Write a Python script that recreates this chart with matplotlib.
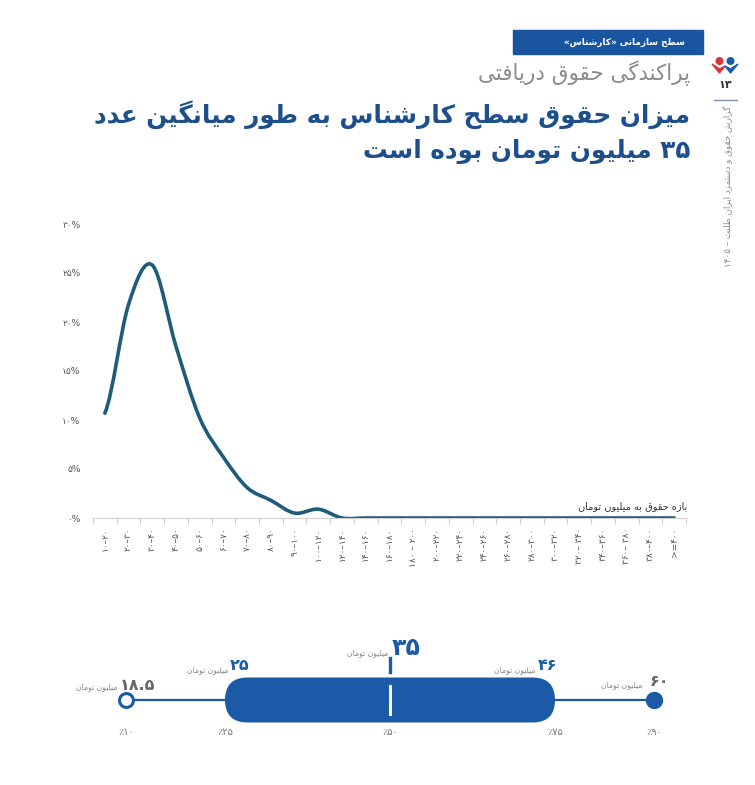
import re
import numpy as np
import matplotlib
matplotlib.use('Agg')
import matplotlib.pyplot as plt
from matplotlib.path import Path
from matplotlib.patches import PathPatch, FancyBboxPatch, Rectangle, Circle, Polygon

# ---- data ----
bins = ['۱۰–۲۰', '۲۰–۳۰', '۳۰–۴۰', '۴۰–۵۰', '۵۰–۶۰', '۶۰–۷۰', '۷۰–۸۰', '۸۰–۹۰',
        '۹۰–۱۰۰', '۱۰۰–۱۲۰', '۱۲۰–۱۴۰', '۱۴۰–۱۶۰', '۱۶۰–۱۸۰', '۱۸۰ – ۲۰۰',
        '۲۰۰–۲۲۰', '۲۲۰–۲۴۰', '۲۴۰–۲۶۰', '۲۶۰–۲۸۰', '۲۸۰–۳۰۰', '۳۰۰–۳۲۰',
        '۳۲۰– ۳۴۰', '۳۴۰–۳۶۰', '۳۶۰– ۳۸۰', '۳۸۰–۴۰۰', '>=۴۰۰']
share = [10.7, 21.8, 25.8, 17.5, 10.2, 6.2, 3.1, 1.8, 0.5, 0.9, 0.0, 0.0, 0.0,
         0.0, 0.0, 0.0, 0.0, 0.0, 0.0, 0.0, 0.0, 0.0, 0.0, 0.0, 0.0]
yticks = [0, 5, 10, 15, 20, 25, 30]

pct_levels = [10, 25, 50, 75, 90]
pct_values = ['۱۸.۵', '۲۵', '۳۵', '۴۶', '۶۰']
pct_labels = ['٪۱۰', '٪۲۵', '٪۵۰', '٪۷۵', '٪۹۰']

# ---- minimal persian shaping (matplotlib has no text shaping) ----
F = {
    'ا': ('\uFE8D', '\uFE8E', None, None), 'آ': ('\uFE81', '\uFE82', None, None),
    'ب': ('\uFE8F', '\uFE90', '\uFE91', '\uFE92'), 'پ': ('\uFB56', '\uFB57', '\uFB58', '\uFB59'),
    'ت': ('\uFE95', '\uFE96', '\uFE97', '\uFE98'), 'ث': ('\uFE99', '\uFE9A', '\uFE9B', '\uFE9C'),
    'ج': ('\uFE9D', '\uFE9E', '\uFE9F', '\uFEA0'), 'چ': ('\uFB7A', '\uFB7B', '\uFB7C', '\uFB7D'),
    'ح': ('\uFEA1', '\uFEA2', '\uFEA3', '\uFEA4'), 'خ': ('\uFEA5', '\uFEA6', '\uFEA7', '\uFEA8'),
    'د': ('\uFEA9', '\uFEAA', None, None), 'ذ': ('\uFEAB', '\uFEAC', None, None),
    'ر': ('\uFEAD', '\uFEAE', None, None), 'ز': ('\uFEAF', '\uFEB0', None, None),
    'ژ': ('\uFB8A', '\uFB8B', None, None),
    'س': ('\uFEB1', '\uFEB2', '\uFEB3', '\uFEB4'), 'ش': ('\uFEB5', '\uFEB6', '\uFEB7', '\uFEB8'),
    'ص': ('\uFEB9', '\uFEBA', '\uFEBB', '\uFEBC'), 'ض': ('\uFEBD', '\uFEBE', '\uFEBF', '\uFEC0'),
    'ط': ('\uFEC1', '\uFEC2', '\uFEC3', '\uFEC4'), 'ظ': ('\uFEC5', '\uFEC6', '\uFEC7', '\uFEC8'),
    'ع': ('\uFEC9', '\uFECA', '\uFECB', '\uFECC'), 'غ': ('\uFECD', '\uFECE', '\uFECF', '\uFED0'),
    'ف': ('\uFED1', '\uFED2', '\uFED3', '\uFED4'), 'ق': ('\uFED5', '\uFED6', '\uFED7', '\uFED8'),
    'ک': ('\uFB8E', '\uFB8F', '\uFB90', '\uFB91'), 'گ': ('\uFB92', '\uFB93', '\uFB94', '\uFB95'),
    'ل': ('\uFEDD', '\uFEDE', '\uFEDF', '\uFEE0'), 'م': ('\uFEE1', '\uFEE2', '\uFEE3', '\uFEE4'),
    'ن': ('\uFEE5', '\uFEE6', '\uFEE7', '\uFEE8'), 'ه': ('\uFEE9', '\uFEEA', '\uFEEB', '\uFEEC'),
    'و': ('\uFEED', '\uFEEE', None, None), 'ی': ('\uFBFC', '\uFBFD', '\uFBFE', '\uFBFF'),
}


def fa(text):
    out = []
    n = len(text)
    for i, c in enumerate(text):
        if c not in F:
            out.append(c)
            continue
        prev = text[i - 1] if i > 0 else ''
        nxt = text[i + 1] if i + 1 < n else ''
        jp = prev in F and F[prev][2] is not None
        jn = nxt in F and F[c][2] is not None
        iso, fin, ini, med = F[c]
        out.append(med if jp and jn else fin if jp else ini if jn else iso)
    s = ''.join(out)[::-1]
    s = s.translate(str.maketrans('«»()', '»«)('))
    return re.sub(r'[۰-۹0-9.]+', lambda m: m.group(0)[::-1], s)


plt.rcParams['font.family'] = ['DejaVu Sans']

W, H = 755, 785
fig = plt.figure(figsize=(W / 100, H / 100), dpi=100)

# overlay in pixel units for header / decoration
bg = fig.add_axes([0, 0, 1, 1])
bg.set_xlim(0, W)
bg.set_ylim(H, 0)
bg.axis('off')

blue = '#1a56a0'
navy = '#1c4f8c'
gray = '#8c8c8c'

bg.add_patch(Rectangle((513, 30), 190, 24, color=blue))
bg.text(624, 42, fa('سطح سازمانی «کارشناس»'), color='white', fontsize=6.4,
        fontweight='bold', ha='center', va='center')
bg.text(690, 73, fa('پراکندگی حقوق دریافتی'), color=gray, fontsize=15.5,
        ha='right', va='center')
bg.text(690, 115, fa('میزان حقوق سطح کارشناس به طور میانگین عدد'), color=navy,
        fontsize=17.7, fontweight='bold', ha='right', va='center')
bg.text(690, 151, fa('۳۵ میلیون تومان بوده است'), color=navy,
        fontsize=17.7, fontweight='bold', ha='right', va='center')

# side logo + page number
bg.add_patch(Circle((719.5, 61), 3.3, color='#d8343c'))
bg.add_patch(Circle((730.5, 61), 3.3, color='#1a5aa8'))
bg.add_patch(Polygon([(712, 64), (719.5, 73), (725, 66), (719.5, 69)], color='#d8343c'))
bg.add_patch(Polygon([(738, 64), (730.5, 73), (725, 66), (730.5, 69)], color='#1a5aa8'))
bg.text(725, 85, '۱۳', fontsize=8, fontweight='bold', color='#333333', ha='center', va='center')
bg.plot([714, 737], [100, 100], color='#7f8fa8', lw=1)
bg.text(727, 106, fa('گزارش حقوق و دستمزد ایران طلنت – ۱۴۰۵'), rotation=90,
        fontsize=6.3, color='#8a8a8a', ha='center', va='top')

# ---- distribution curve ----
ax = fig.add_axes([93 / W, 1 - 518 / H, 593 / W, 294 / H])
x = np.arange(len(share))
y = np.array(share)
# smooth line through the points (Catmull-Rom as cubic bezier)
verts = [(x[0], y[0])]
codes = [Path.MOVETO]
for i in range(len(x) - 1):
    p0 = y[max(i - 1, 0)]
    p3 = y[min(i + 2, len(y) - 1)]
    c1 = y[i] + (y[i + 1] - p0) / 6
    c2 = y[i + 1] - (p3 - y[i]) / 6
    verts += [(x[i] + 1 / 3, c1), (x[i] + 2 / 3, c2), (x[i + 1], y[i + 1])]
    codes += [Path.CURVE4] * 3
ax.add_patch(PathPatch(Path(verts, codes), fill=False, edgecolor='#1f5b7a',
                       lw=2.6, capstyle='round', joinstyle='round'))
ax.set_xlim(-0.5, len(share) - 0.5)
ax.set_ylim(0, 30)
ax.set_yticks(yticks)
ax.set_yticklabels([fa(str(v).translate(str.maketrans('0123456789', '۰۱۲۳۴۵۶۷۸۹'))) + '%'
                    for v in yticks])
ax.set_xticks(x)
ax.set_xticklabels(bins, rotation=90)
ax.set_xticks(np.arange(-0.5, len(share)), minor=True)
ax.tick_params(axis='x', which='major', length=0, pad=7, labelsize=6.5, labelcolor='#555555')
ax.tick_params(axis='x', which='minor', length=4, color='#d0d0d0', width=0.8)
ax.tick_params(axis='y', length=0, pad=9, labelsize=6.5, labelcolor='#555555')
for s in ['top', 'right', 'left']:
    ax.spines[s].set_visible(False)
ax.spines['bottom'].set_color('#d0d0d0')
ax.text(len(share) - 0.45, 1.2, fa('بازه حقوق به میلیون تومان'), fontsize=7,
        color='#333333', ha='right', va='center')

# ---- percentile strip ----
u = 6.6  # pixels per unit
bx = fig.add_axes([60 / W, 1 - 760 / H, 660 / W, 140 / H])
bx.set_xlim(0, 100)
bx.set_ylim(-60 / u, 80 / u)
bx.axis('off')
bc = '#1a5aa6'
bx.plot(pct_levels[:2], [0, 0], color=bc, lw=1.6, zorder=1)
bx.plot(pct_levels[3:], [0, 0], color=bc, lw=1.6, zorder=1)
hh = 22.5 / u
bx.add_patch(FancyBboxPatch((pct_levels[1], -hh), pct_levels[3] - pct_levels[1], 2 * hh,
                            boxstyle='round,pad=0,rounding_size=%f' % hh,
                            facecolor=bc, edgecolor='none', zorder=2))
bx.plot([pct_levels[2]] * 2, [-14 / u, 14 / u], color='white', lw=2.2, zorder=3)
bx.plot([pct_levels[2]] * 2, [28 / u, 42 / u], color=bc, lw=2.4, zorder=3)
bx.plot(pct_levels[0], 0, 'o', ms=10, mfc='white', mec=bc, mew=2.2, zorder=4)
bx.plot(pct_levels[4], 0, 'o', ms=11.5, mfc=bc, mec=bc, zorder=4)

unit = fa('میلیون تومان')
# value label offsets in pixels: (value dx, value dy, value align, unit dx, unit dy, colour, size)
lab = [(-6, 15, 'left', -9, 13, '#666666', 11.5),
       (5, 34, 'left', 3, 30, bc, 11.5),
       (2, 52, 'left', -2, 47, bc, 17),
       (2, 35, 'right', -20, 30, bc, 11.5),
       (-4, 19, 'left', -12, 15, '#666666', 11.5)]
for p, v, (dx, dy, ha, ux, uy, col, fs) in zip(pct_levels, pct_values, lab):
    bx.annotate(v, (p, 0), xytext=(dx * 0.72, dy * 0.72), textcoords='offset points',
                ha=ha, va='center', fontsize=fs, fontweight='bold', color=col)
    bx.annotate(unit, (p, 0), xytext=(ux * 0.72, uy * 0.72), textcoords='offset points',
                ha='right', va='center', fontsize=5.5, color='#888888')
for p, t in zip(pct_levels, pct_labels):
    bx.annotate(t, (p, 0), xytext=(0, -32 * 0.72), textcoords='offset points',
                ha='center', va='center', fontsize=7, color='#777777')

plt.savefig('out.png', dpi=100)
